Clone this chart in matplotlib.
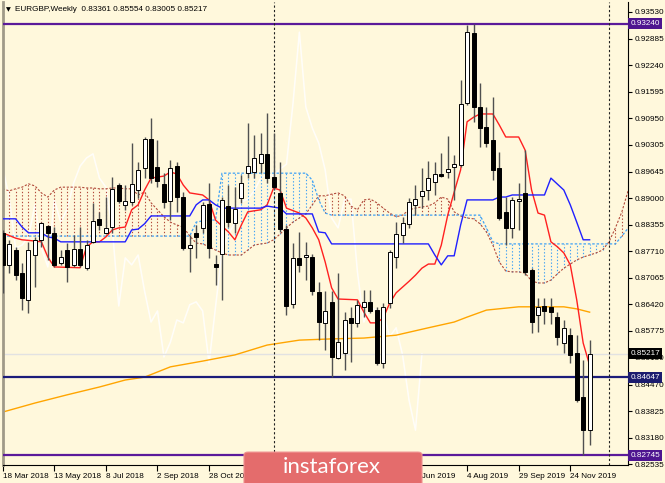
import numpy as np
import matplotlib
matplotlib.use("Agg")
import matplotlib.pyplot as plt
import matplotlib.transforms as mtransforms
from matplotlib.patches import FancyBboxPatch

# weekly EURGBP candles, week 0 = 18 Mar 2018
opens = [.8816, .8738, .8774, .8718, .8653, .8762, .8799, .8833, .8816, .8743,
         .8774, .8738, .8777, .8731, .8794, .8850, .8816, .8830, .8932, .8884,
         .8891, .8920, .8974, .9044, .8976, .8935, .8893, .8978, .8903, .8779,
         .8816, .8828, .8886, .8740, .8765, .8881, .8840, .8901, .8961, .8964,
         .8986, .9008, .8952, .8913, .8825, .8643, .8755, .8757, .8757, .8672,
         .8597, .8648, .8512, .8524, .8609, .8597, .8636, .8648, .8628, .8499,
         .8645, .8757, .8811, .8838, .8884, .8905, .8920, .8940, .8959, .8964,
         .8976, .8981, .9132, .9302, .9122, .9073, .9042, .8974, .8867, .8828,
         .8893, .8913, .8726, .8616, .8638, .8636, .8611, .8548, .8567, .8524,
         .8417, .83361]
highs = [.8823, .8799, .8782, .8743, .8794, .8806, .8842, .8835, .8830, .8774,
         .8791, .8811, .8830, .8799, .8889, .8867, .8903, .8952, .8937, .8932,
         .9034, .8988, .9049, .9095, .9042, .8961, .8993, .8988, .8915, .8811,
         .8835, .8891, .8937, .8762, .8903, .8932, .8927, .8957, .9083, .9054,
         .9059, .9107, .9059, .8988, .8835, .8791, .8818, .8794, .8765, .8696,
         .8674, .8674, .8718, .8623, .8636, .8653, .8677, .8677, .8636, .8645,
         .8774, .8842, .8855, .8901, .8932, .8974, .8991, .8988, .9010, .9051,
         .9005, .9188, .9321, .9324, .9180, .9122, .9146, .9013, .8903, .8903,
         .8937, .9017, .8730, .8657, .8657, .8657, .8623, .8604, .8585, .8567,
         .8507, .85554]
lows = [.8670, .8718, .8701, .8628, .8621, .8684, .8782, .8750, .8733, .8738,
        .8696, .8733, .8733, .8726, .8791, .8823, .8813, .8816, .8889, .8872,
        .8884, .8901, .8949, .8937, .8927, .8876, .8847, .8867, .8774, .8721,
        .8755, .8816, .8755, .8689, .8653, .8830, .8816, .8889, .8949, .8949,
        .8961, .8937, .8920, .8818, .8616, .8633, .8721, .8701, .8665, .8555,
        .8531, .8465, .8509, .8482, .8502, .8587, .8611, .8621, .8494, .8487,
        .8633, .8730, .8791, .8828, .8859, .8876, .8896, .8908, .8952, .8949,
        .8896, .8976, .9127, .9086, .9025, .9025, .8944, .8847, .8786, .8803,
        .8823, .8713, .8572, .8575, .8594, .8594, .8543, .8524, .8499, .8405,
        .82745, .83005]
closes = [.8738, .8789, .8713, .8657, .8774, .8799, .8840, .8816, .8738, .8757,
          .8733, .8777, .8738, .8786, .8845, .8835, .8828, .8923, .8893, .8893,
          .8935, .8969, .9044, .8949, .8942, .8891, .8974, .8903, .8779, .8786,
          .8806, .8884, .8779, .8733, .8896, .8842, .8874, .8937, .8978, .8998,
          .9008, .8949, .8927, .8825, .8638, .8755, .8738, .8762, .8674, .8599,
          .8626, .8514, .8550, .8604, .8597, .8641, .8648, .8626, .8499, .8636,
          .8769, .8813, .8840, .8891, .8898, .8918, .8949, .8959, .8954, .8971,
          .8983, .9129, .9304, .9122, .9071, .9034, .8969, .8852, .8828, .8896,
          .8898, .8721, .8599, .8636, .8626, .8623, .8563, .8585, .8519, .8409,
          .8336, .85217]

# Ichimoku lines
tenkan_wk = [0, 2, 3, 5, 6, 7, 8, 12, 13, 14, 15, 16, 17, 18, 19, 20, 21, 22, 23, 25,
             26, 27, 28, 29, 31, 32, 33, 35, 36, 37, 38, 40, 41, 42, 43, 44, 46, 47, 48, 49,
             50, 51, 52, 55, 56, 57, 58, 59, 60, 61, 62, 63, 64, 65, 66, 67, 68, 69, 70, 71,
             72, 73, 74, 76, 77, 78, 80, 81, 82, 83, 84, 85, 86, 87, 88, 89, 90, 91]
tenkan = [.8816, .8803, .8799, .8796, .8794, .8757, .8733, .8731, .8782, .8794,
          .8794, .8806, .8823, .8828, .8830, .8872, .8884, .8920, .8949, .8954,
          .8964, .8959, .8932, .8913, .8908, .8896, .8847, .8818, .8799, .8835,
          .8867, .8872, .8884, .8925, .8920, .8876, .8864, .8852, .8828, .8799,
          .8745, .8682, .8655, .8653, .8623, .8597, .8597, .8609, .8645, .8670,
          .8684, .8698, .8713, .8730, .8740, .8740, .8786, .8859, .8915, .8969,
          .9086, .9097, .9105, .9105, .9078, .9049, .9049, .9017, .8920, .8864,
          .8859, .8794, .8782, .8767, .8738, .8653, .8548, .8494]
kijun_wk = [0, 2, 3, 4, 6, 7, 8, 9, 19, 20, 21, 22, 23, 29, 30, 31, 32, 33, 34, 40,
            41, 43, 44, 48, 49, 50, 51, 66, 67, 68, 69, 70, 71, 72, 76, 77, 78, 79, 84, 85,
            87, 88, 89, 90, 91]
kijun = [.8850, .8850, .8830, .8816, .8816, .8806, .8803, .8794, .8794, .8823,
         .8825, .8838, .8857, .8857, .8884, .8896, .8896, .8884, .8876, .8876,
         .8881, .8876, .8862, .8862, .8818, .8816, .8789, .8789, .8762, .8738,
         .8760, .8760, .8835, .8896, .8896, .8903, .8903, .8908, .8908, .8949,
         .8920, .8884, .8842, .8799, .8799]

# senkou spans, one value per week (cloud runs 6 weeks past the last bar)
span_a = [.8923, .8918, .8923, .8927, .8935, .8930, .8913, .8903, .8920, .8927,
          .8927, .8927, .8927, .8925, .8925, .8923, .8923, .8925, .8925, .8923,
          .8923, .8908, .8915, .8889, .8872, .8855, .8842, .8835, .8830, .8808,
          .8791, .8789, .8782, .8774, .8767, .8762, .8762, .8762, .8774, .8786,
          .8789, .8791, .8799, .8813, .8828, .8842, .8852, .8862, .8884, .8906,
          .8906, .8910, .8913, .8906, .8881, .8872, .8896, .8898, .8889, .8876,
          .8864, .8855, .8859, .8872, .8876, .8879, .8881, .8889, .8903, .8898,
          .8867, .8857, .8852, .8850, .8838, .8818, .8786, .8745, .8723, .8721,
          .8721, .8718, .8699, .8694, .8694, .8701, .8716, .8730, .8740, .8750,
          .8757, .8762, .8767, .8774, .8794, .8828, .8867, .8920]
span_b = [.8808] * 30 + [.8842, .8845, .8847, .8847] + [.8961] * 14 + \
         [.8944, .8896, .8864] + [.8859] * 24 + [.8828, .8794] + [.8789] * 19 + [.8808, .8828]

ma_wk = [0, 5, 10, 15, 19, 22, 26, 31, 36, 41, 46, 51, 56, 61, 66, 70, 72, 75, 80, 87, 89, 91]
ma = [.8380, .8402, .8422, .8441, .8458, .8465, .8490, .8504, .8519, .8543, .8555,
      .8558, .8560, .8567, .8585, .8599, .8611, .8628, .8636, .8636, .8631, .8623]

chikou_shift = 26

ytick_vals = [0.93530, 0.92885, 0.92240, 0.91595, 0.90950, 0.90305, 0.89645, 0.89000, 0.88355,
              0.87710, 0.87065, 0.86420, 0.85775, 0.85130, 0.84470, 0.83825, 0.83180, 0.82535]
xtick_wk = [0, 8, 16, 24, 32, 40, 48, 56, 64, 72, 80, 88]
xtick_lbl = ['18 Mar 2018', '13 May 2018', '8 Jul 2018', '2 Sep 2018', '28 Oct 2018',
             '23 Dec 2018', '17 Feb 2019', '14 Apr 2019', '9 Jun 2019', '4 Aug 2019',
             '29 Sep 2019', '24 Nov 2019']

level_hi = 0.93240
level_mid = 0.84647
level_lo = 0.82745
separators = [42, 94]

bg = '#FFF8DC'
brown = '#B24A3A'
lblue = '#3FA2F5'
small = 'Liberation Sans'
fs = 5.9

fig = plt.figure(figsize=(6.65, 4.83), dpi=100, facecolor=bg)
ax = fig.add_axes([2.5 / 665, 18 / 483, 625.5 / 665, 463 / 483], facecolor=bg)

n = len(closes)
wk = np.arange(n)
o = np.array(opens); h = np.array(highs); l = np.array(lows); c = np.array(closes)

# moving average and chikou span behind everything
ax.plot(wk[:n - chikou_shift], c[chikou_shift:], color='#FFFFFF', lw=1.1, alpha=0.85, zorder=1)
ax.plot(ma_wk, ma, color='#FFA500', lw=1.0, zorder=2)

# cloud
cw = np.arange(len(span_a))
sa = np.array(span_a); sb = np.array(span_b)
hatch_col = [brown if a >= b else lblue for a, b in zip(sa, sb)]
ax.vlines(cw, np.minimum(sa, sb), np.maximum(sa, sb), colors=hatch_col,
          linestyles=(0, (1.2, 1.8)), lw=0.8, zorder=2)
ax.plot(cw, sa, color=brown, ls=(0, (2, 1.5)), lw=0.8, zorder=2)
ax.plot(cw, sb, color=lblue, ls=(0, (2, 1.5)), lw=0.9, zorder=2)

ax.plot(tenkan_wk, tenkan, color='#FF2020', lw=1.0, zorder=3)
ax.plot(kijun_wk, kijun, color='#2020FF', lw=1.0, zorder=3)

# levels
ax.axhline(level_hi, color='#5B1A9A', lw=1.6, zorder=3)
ax.axhline(level_lo, color='#5B1A9A', lw=1.6, zorder=3)
ax.axhline(level_mid, color='#1C1C7A', lw=1.6, zorder=3)
ax.axhline(closes[-1], color='#E2E2E2', lw=1.0, zorder=1)
for s in separators:
    ax.axvline(s, color='#202020', lw=0.8, ls=(0, (2, 2)), zorder=3)

# candles
ax.vlines(wk, l, h, color='#505050', lw=1.0, zorder=4)
bull = c >= o
body = np.maximum(np.abs(c - o), 0.00008)
ax.bar(wk, body, bottom=np.minimum(o, c), width=0.62,
       color=np.where(bull, 'white', 'black'), edgecolor='black', lw=0.7, zorder=5)

ax.set_xlim(-0.03, 96.95)
ax.set_ylim(0.82513, 0.93773)

ax.spines['top'].set_visible(False)
ax.spines['left'].set_color('#A09A88')
ax.spines['left'].set_linewidth(2)
ax.spines['right'].set_color('black')
ax.spines['right'].set_linewidth(0.8)
ax.spines['bottom'].set_color('black')
ax.spines['bottom'].set_linewidth(0.8)

ax.yaxis.tick_right()
ax.set_yticks(ytick_vals)
ax.set_yticklabels(['%.5f' % v for v in ytick_vals], family=small)
ax.tick_params(axis='y', length=3, width=0.8, pad=2, labelsize=fs, colors='black')
ax.set_xticks(xtick_wk)
ax.set_xticklabels(xtick_lbl, ha='left', family=small)
ax.tick_params(axis='x', length=4, width=0.8, pad=2, labelsize=fs, colors='black')

# price labels on the right axis
tr = mtransforms.blended_transform_factory(ax.transAxes, ax.transData)
for val, fc in [(level_hi, '#4E1590'), (closes[-1], 'black'), (level_mid, '#1C1C6E'), (level_lo, '#4E1590')]:
    ax.text(1.004, val, '%.5f' % val, transform=tr, fontsize=fs, color='white', va='center',
            ha='left', clip_on=False, zorder=10, family=small,
            bbox=dict(boxstyle='square,pad=0.25', fc=fc, ec='none'))

ax.text(0.006, 0.983, '\u25BC', transform=ax.transAxes, fontsize=4.5, va='center', ha='left',
        color='black')
ax.text(0.02, 0.983, 'EURGBP,Weekly  0.83361 0.85554 0.83005 0.85217', transform=ax.transAxes,
        fontsize=fs, va='center', ha='left', color='black', family=small)

# watermark
fig.patches.append(FancyBboxPatch((244 / 665, -0.02), 178 / 665, 0.084,
                                  boxstyle='round,pad=0,rounding_size=0.006',
                                  transform=fig.transFigure, fc='#E46C6C', ec='#F09090', lw=0.8,
                                  zorder=20))
fig.text(332 / 665, 16 / 483, 'instaforex', fontsize=16, color='white', ha='center', va='center',
         family='Lato', zorder=21)

fig.savefig('out.png', dpi=100, facecolor=bg)
